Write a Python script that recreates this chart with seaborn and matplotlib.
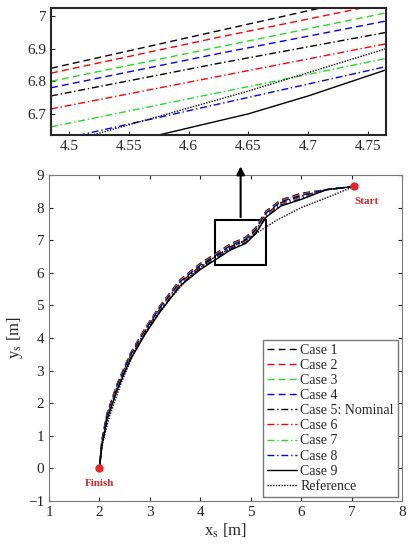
import matplotlib
matplotlib.use("Agg")
import matplotlib.pyplot as plt
import seaborn as sns
import numpy as np

sns.set_style("ticks")
plt.rcParams['font.family'] = ['Liberation Serif', 'DejaVu Serif']
plt.rcParams['mathtext.fontset'] = 'stix'

labels = ["Case 1", "Case 2", "Case 3", "Case 4", "Case 5: Nominal",
          "Case 6", "Case 7", "Case 8", "Case 9", "Reference"]
colors = ["black", "red", "#22dd22", "blue", "black", "red", "#22dd22", "blue", "black", "black"]
styles = [(0, (5, 3)), (0, (5, 3)), (0, (5, 3)), (0, (5, 3)), (0, (5, 2, 1, 2)),
          (0, (5, 2, 1, 2)), (0, (5, 2, 1, 2)), (0, (5, 2, 1, 2)), "-", (0, (1, 1))]

# main trajectory (nominal) and reference
path_x = [7.05, 6.5, 6.0, 5.6, 5.3, 5.1, 4.9, 4.6, 4.3, 4.0, 3.6, 3.2, 2.9, 2.6, 2.35, 2.15, 2.05, 2.0]
path_y = [8.65, 8.55, 8.35, 8.15, 7.8, 7.3, 7.0, 6.8, 6.5, 6.2, 5.7, 4.9, 4.2, 3.4, 2.5, 1.6, 0.8, 0.0]
case_dy = [0.09, 0.07, 0.05, 0.03, 0.0, -0.03, -0.06, -0.08, -0.1]
ref_x = [7.05, 6.5, 6.0, 5.5, 5.0, 4.6, 4.2, 3.8, 3.4, 3.0, 2.7, 2.45, 2.2, 2.05, 2.0]
ref_y = [8.65, 8.3, 8.0, 7.6, 7.1, 6.75, 6.4, 5.9, 5.2, 4.4, 3.6, 2.7, 1.6, 0.7, 0.0]

# zoomed inset samples
zoom_x = [4.485, 4.625, 4.765]
zoom_y = [
    [6.84, 6.955, 7.07],
    [6.825, 6.935, 7.04],
    [6.80, 6.905, 7.01],
    [6.78, 6.885, 6.985],
    [6.755, 6.855, 6.95],
    [6.715, 6.815, 6.915],
    [6.66, 6.765, 6.87],
    [6.615, 6.73, 6.845],
]
case9_x = [4.485, 4.575, 4.65, 4.7, 4.765]
case9_y = [6.585, 6.635, 6.70, 6.755, 6.835]
refz_x = [4.485, 4.52, 4.65, 4.765]
refz_y = [6.60, 6.635, 6.77, 6.90]

fig = plt.figure(figsize=(4.13, 5.53), dpi=100)
ax1 = fig.add_axes([51/413, 1-135/553, 335/413, 127/553])
ax2 = fig.add_axes([49/413, 1-501/553, 353/413, 326/553])

for i in range(8):
    sns.lineplot(x=zoom_x, y=zoom_y[i], ax=ax1, color=colors[i], linestyle=styles[i], lw=1.0)
sns.lineplot(x=case9_x, y=case9_y, ax=ax1, color="black", linestyle="-", lw=1.0)
sns.lineplot(x=refz_x, y=refz_y, ax=ax1, color="black", linestyle=styles[9], lw=1.0)
ax1.set_xlim(4.485, 4.765)
ax1.set_ylim(6.635, 7.025)
ax1.set_xticks([4.5, 4.55, 4.6, 4.65, 4.7, 4.75])
ax1.set_xticklabels(["4.5", "4.55", "4.6", "4.65", "4.7", "4.75"])
ax1.set_yticks([6.7, 6.8, 6.9, 7.0])
ax1.set_yticklabels(["6.7", "6.8", "6.9", "7"])
for s in ax1.spines.values():
    s.set_linewidth(1.5)
ax1.tick_params(labelsize=11, direction="in", length=3)

for i in range(9):
    yy = [v + case_dy[i] * (0 if (v > 8.5 or v < 0.5) else 1) for v in path_y]
    sns.lineplot(x=path_x, y=yy, ax=ax2, color=colors[i], linestyle=styles[i], lw=1.0,
                 label=labels[i], sort=False, estimator=None)
sns.lineplot(x=ref_x, y=ref_y, ax=ax2, color="black", linestyle=styles[9], lw=1.0,
             label=labels[9], sort=False, estimator=None)
ax2.plot([7.05], [8.65], "o", color="#e8262a", ms=5)
ax2.plot([2.0], [0.0], "o", color="#e8262a", ms=5)
ax2.text(7.05, 8.2, "Start", color="#d42a2a", fontsize=8, fontweight="bold", ha="left", va="center")
ax2.text(2.0, -0.45, "Finish", color="#d42a2a", fontsize=8, fontweight="bold", ha="center", va="center")
ax2.add_patch(plt.Rectangle((4.3, 6.25), 1.0, 1.37, fill=False, lw=1.5, ec="black"))
ax2.annotate("", xy=(4.8, 9.35), xytext=(4.8, 7.62), annotation_clip=False,
             arrowprops=dict(arrowstyle="-|>", color="black", lw=1.5, mutation_scale=12))
ax2.set_xlim(1, 8)
ax2.set_ylim(-1, 9)
ax2.set_xticks(range(1, 9))
ax2.set_yticks(range(-1, 10))
ax2.set_xlabel(r"x$_\mathrm{s}$ [m]", fontsize=12, labelpad=2)
ax2.set_ylabel(r"y$_\mathrm{s}$ [m]", fontsize=12, labelpad=2)
ax2.tick_params(labelsize=11, direction="in", length=3, top=True, right=True)
for s in ax2.spines.values():
    s.set_color("#777777")
leg = ax2.legend(loc="lower right", fontsize=10, handlelength=2.2, handletextpad=0.2,
                 labelspacing=0.15, borderpad=0.3, fancybox=False, framealpha=1,
                 edgecolor="#777777", borderaxespad=0.3)
fig.savefig("out.png", dpi=100)
